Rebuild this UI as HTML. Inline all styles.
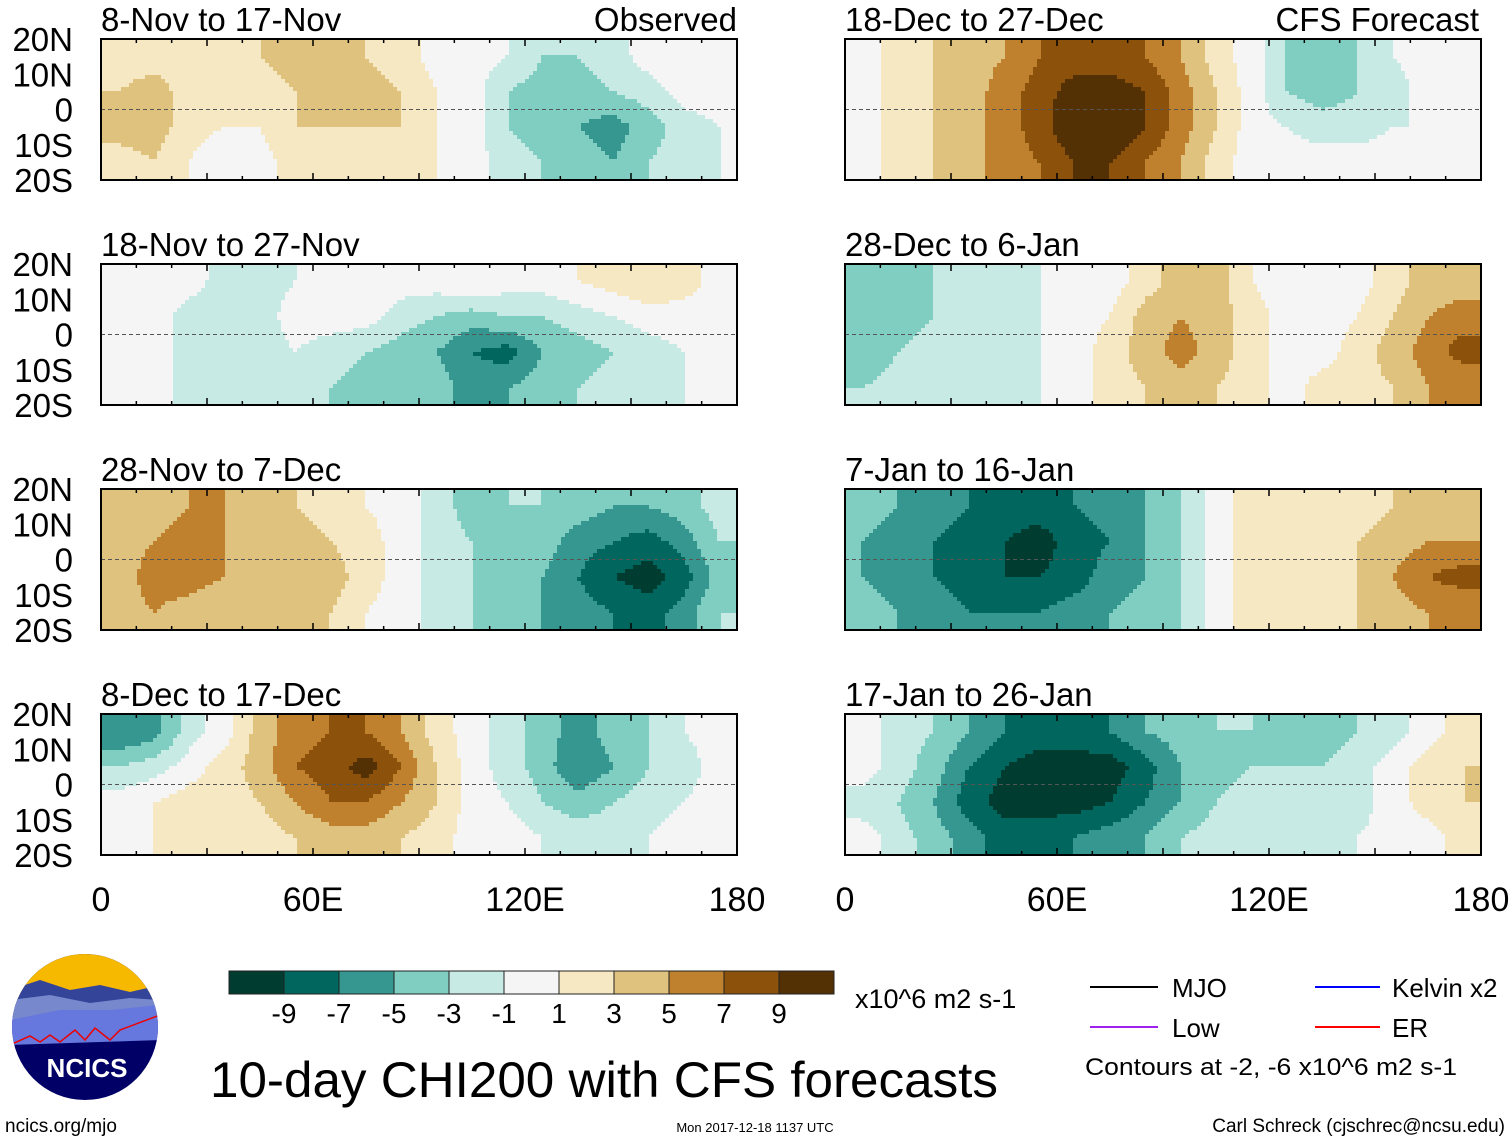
<!DOCTYPE html>
<html><head><meta charset="utf-8">
<style>
html,body{margin:0;padding:0;background:#fff;}
svg{display:block;font-family:"Liberation Sans",Arial,sans-serif;}
</style></head>
<body>
<svg id="root" width="1510" height="1142" viewBox="0 0 1510 1142" xmlns="http://www.w3.org/2000/svg">
<g id="panels"></g>
<g id="labels"></g>

<g>
<clipPath id="logoclip"><circle cx="85" cy="1027" r="73"/></clipPath>
<g clip-path="url(#logoclip)">
<rect x="10" y="952" width="150" height="150" fill="#000066"/>
<rect x="10" y="952" width="150" height="50" fill="#f7b800"/>
<path d="M10 990 L40 980 L70 990 L100 985 L130 992 L160 985 L160 1010 L10 1010Z" fill="#334499"/>
<path d="M10 1000 L50 995 L90 1003 L130 998 L160 1000 L160 1025 L10 1030Z" fill="#7788cc"/>
<path d="M10 1020 L60 1010 L110 1010 L160 1005 L160 1040 L10 1045Z" fill="#6677dd"/>
<path d="M10 1045 L30 1036 L40 1042 L50 1035 L60 1042 L75 1030 L85 1040 L95 1028 L110 1040 L120 1030 L160 1015" fill="none" stroke="#e00" stroke-width="1.5"/>
</g>
<text x="87" y="1077" font-size="26" font-weight="bold" fill="#fff" text-anchor="middle">NCICS</text>
</g>

<g id="colorbar"></g>
<text x="855" y="1008" font-size="27">x10^6 m2 s-1</text>
<text x="210" y="1097" font-size="50" textLength="788" lengthAdjust="spacingAndGlyphs">10-day CHI200 with CFS forecasts</text>

<g>
<line x1="1090" y1="987" x2="1158" y2="987" stroke="#000" stroke-width="2"/>
<text x="1172" y="997" font-size="26">MJO</text>
<line x1="1090" y1="1027" x2="1158" y2="1027" stroke="#a020f0" stroke-width="2"/>
<text x="1172" y="1037" font-size="26">Low</text>
<line x1="1315" y1="987" x2="1380" y2="987" stroke="#0000ff" stroke-width="2"/>
<text x="1392" y="997" font-size="26">Kelvin x2</text>
<line x1="1315" y1="1027" x2="1380" y2="1027" stroke="#ff0000" stroke-width="2"/>
<text x="1392" y="1037" font-size="26">ER</text>
<text x="1085" y="1075" font-size="24" textLength="372" lengthAdjust="spacingAndGlyphs">Contours at -2, -6 x10^6 m2 s-1</text>
</g>
<text x="5" y="1132" font-size="19">ncics.org/mjo</text>
<text x="755" y="1132" font-size="13" text-anchor="middle">Mon 2017-12-18 1137 UTC</text>
<text x="1505" y="1132" font-size="19" text-anchor="end">Carl Schreck (cjschrec@ncsu.edu)</text>
</svg>

<script>
const levelLabels = [-9,-7,-5,-3,-1,1,3,5,7,9];
const levelColors = ["#003c30","#01665e","#35978f","#80cdc1","#c7eae5","#f5f5f5","#f6e8c3","#dfc27d","#bf812d","#8c510a","#543005"];
const latTicks = ["20N","10N","0","10S","20S"];
const lonTicks = ["0","60E","120E","180"];
const panelTitles = ["8-Nov to 17-Nov","18-Nov to 27-Nov","28-Nov to 7-Dec","8-Dec to 17-Dec","18-Dec to 27-Dec","28-Dec to 6-Jan","7-Jan to 16-Jan","17-Jan to 26-Jan"];
// rows: 20N-10N, 10N-0, 0-10S, 10S-20S ; cols: 10-degree lon bands 0..180
const p1 = [[2,2,3,2,3,4,4,3,2,0,0,-1,-3,-3,-2,0,0,0],[3,4,2,1,2,3,4,4,3,1,0,-3,-4,-4,-3,-2,0,0],[4,4,2,1,1,3,3,3,3,1,0,-3,-4,-5,-6,-4,-2,-1],[2,3,1,-1,0,2,2,2,2,1,0,-2,-3,-4,-5,-3,-2,-1]];
const p2 = [[0,0,0,-2,-2,-1,0,0,0,0,1,0,0,1,2,3,2,0],[0,0,-2,-3,-2,0,0,0,-2,-3,-4,-3,-3,-2,-1,0,0,0],[0,0,-2,-3,-2,-1,-2,-3,-4,-5,-7,-8,-5,-4,-3,-2,-1,0],[0,0,-2,-2,-1,-2,-3,-4,-4,-4,-6,-5,-4,-3,-2,-2,-1,0]];
const p3 = [[3,4,5,5,4,3,2,1,0,-2,-4,-3,-3,-4,-5,-5,-4,-2],[4,5,6,5,5,4,3,2,0,-2,-3,-3,-4,-6,-7,-8,-6,-3],[4,6,6,5,4,4,4,2,0,-2,-3,-4,-5,-7,-9,-10,-8,-4],[4,5,4,3,3,4,3,1,0,-2,-3,-4,-5,-6,-7,-8,-6,-3]];
const p4 = [[-7,-6,-2,0,4,6,7,7,5,2,0,-2,-4,-6,-4,-3,-1,0],[-3,-2,0,2,4,7,8,10,7,3,0,-2,-4,-7,-5,-3,-2,0],[0,1,2,2,3,5,7,7,5,3,0,-1,-3,-4,-3,-2,-1,0],[0,1,2,1,2,3,4,4,3,2,0,0,-1,-2,-2,-1,0,0]];
const p5 = [[0,2,3,4,5,7,8,8,7,5,2,0,-3,-5,-3,-1,0,0],[0,2,3,4,6,8,10,10,9,6,3,0,-3,-4,-3,-2,0,0],[0,2,3,4,6,8,11,11,9,6,3,0,-1,-2,-2,-1,-1,0],[0,2,3,4,6,7,9,9,7,5,2,0,0,0,0,0,-1,0]];
const p6 = [[-4,-4,-3,-2,-2,-1,-1,0,2,4,4,1,0,-1,0,2,4,4],[-5,-4,-3,-3,-2,-1,0,1,4,5,4,2,0,0,1,3,5,6],[-5,-3,-2,-3,-2,-1,0,2,4,6,4,2,0,0,2,4,6,8],[-3,-2,-2,-2,-2,-1,0,2,3,4,3,2,0,2,2,3,5,5]];
const p7 = [[-4,-5,-6,-7,-8,-8,-7,-6,-5,-3,0,2,2,2,2,3,3,4],[-5,-6,-7,-8,-9,-10,-8,-7,-5,-3,0,2,2,2,3,4,5,5],[-5,-6,-7,-8,-9,-9,-8,-6,-5,-3,0,2,2,2,3,5,7,8],[-4,-5,-6,-7,-7,-7,-6,-5,-4,-3,0,2,2,2,3,4,5,5]];
const p8 = [[0,-2,-3,-5,-7,-8,-8,-7,-5,-4,-3,-3,-4,-4,-3,-2,0,2],[0,-2,-4,-7,-9,-10,-10,-10,-8,-5,-4,-3,-3,-3,-2,0,2,3],[-2,-3,-5,-8,-10,-10,-10,-9,-7,-5,-3,-2,-2,-2,-2,0,2,3],[0,-2,-4,-6,-8,-8,-7,-6,-5,-3,-2,-2,-1,-2,-1,0,0,2]];
const panelValues = [p1,p2,p3,p4,p5,p6,p7,p8];

const NS="http://www.w3.org/2000/svg";
function mk(tag,attrs,parent){const e=document.createElementNS(NS,tag);for(const k in attrs)e.setAttribute(k,attrs[k]);parent.appendChild(e);return e;}
const PW=636, PH=141;
const colX=[101,845], rowY=[39,264,489,714];
function xScale(x0,lon){return x0+lon*PW/180;}
function yScale(y0,lat){return y0+(20-lat)*PH/40;}
function colorIdx(v){for(let i=0;i<levelLabels.length;i++){if(v<levelLabels[i])return i;}return 10;}
function sample(g,lon,lat){
  let c=lon/10-0.5, r=(20-lat)/10-0.5;
  c=Math.max(0,Math.min(17,c)); r=Math.max(0,Math.min(3,r));
  const c0=Math.min(16,Math.floor(c)), r0=Math.min(2,Math.floor(r));
  const fc=c-c0, fr=r-r0;
  return g[r0][c0]*(1-fc)*(1-fr)+g[r0][c0+1]*fc*(1-fr)+g[r0+1][c0]*(1-fc)*fr+g[r0+1][c0+1]*fc*fr;
}
const panelsG=document.getElementById('panels');
const labelsG=document.getElementById('labels');
panelValues.forEach((g,pi)=>{
  const x0=colX[pi<4?0:1], y0=rowY[pi%4];
  const pg=mk('g',{},panelsG);
  
  
  const step=4;
  for(let py=0;py<PH;py+=step){
    const lat=20-(py+step/2)/PH*40;
    let runStart=0, runC=-1;
    for(let px=0;px<=PW;px+=step){
      let ci=-1;
      if(px<PW){const lon=(px+step/2)/PW*180;ci=colorIdx(sample(g,lon,lat));}
      if(ci!==runC){
        if(runC>=0){
          const r=mk('rect',{x:x0+runStart,y:y0+py,width:Math.min(px,PW)-runStart+0.6,height:Math.min(step,PH-py)+0.6,fill:levelColors[runC]},pg);
          
          
        }
        runStart=px; runC=ci;
      }
    }
  }
  const eq=mk('line',{x1:x0,x2:x0+PW,y1:yScale(y0,0),y2:yScale(y0,0),stroke:'#555','stroke-width':1,'stroke-dasharray':'4,3'},pg);
  
  
  const fr=mk('rect',{x:x0,y:y0,width:PW,height:PH,fill:'none',stroke:'#000','stroke-width':2},pg);
  
  
  for(let lon=0;lon<=180;lon+=10){
    const len=(lon%30===0)?7:4;
    mk('line',{x1:xScale(x0,lon),x2:xScale(x0,lon),y1:y0,y2:y0+len,stroke:'#000','stroke-width':1.5},pg);
    mk('line',{x1:xScale(x0,lon),x2:xScale(x0,lon),y1:y0+PH,y2:y0+PH-len,stroke:'#000','stroke-width':1.5},pg);
  }
  const t=mk('text',{x:x0,y:y0-8,'font-size':33},labelsG);
  t.textContent=panelTitles[pi];
  
  
  if(pi<4){
    latTicks.forEach((lab,i)=>{
      const tt=mk('text',{x:73,y:yScale(y0,20-i*10)+12,'font-size':33,'text-anchor':'end'},labelsG);
      tt.textContent=lab;
      
      
    });
  }
  if(pi%4===3){
    lonTicks.forEach((lab,i)=>{
      const tt=mk('text',{x:xScale(x0,i*60),y:911,'font-size':34,'text-anchor':'middle'},labelsG);
      tt.textContent=lab;
      
      
    });
  }
});
[["Observed",737],["CFS Forecast",1479]].forEach(([s,x])=>{
  const t=mk('text',{x:x,y:31,'font-size':33,'text-anchor':'end'},labelsG);
  t.textContent=s;
  
  
});
const cb=document.getElementById('colorbar');
const bw=55, bx=229, by=971, bh=23;
levelColors.forEach((c,i)=>{
  const r=mk('rect',{x:bx+i*bw,y:by,width:bw,height:bh,fill:c,stroke:'#222','stroke-width':1},cb);
  
  
});
levelLabels.forEach((v,i)=>{
  const t=mk('text',{x:bx+(i+1)*bw,y:1023,'font-size':28,'text-anchor':'middle'},cb);
  t.textContent=String(v);
  
  
});
</script>
</body></html>
